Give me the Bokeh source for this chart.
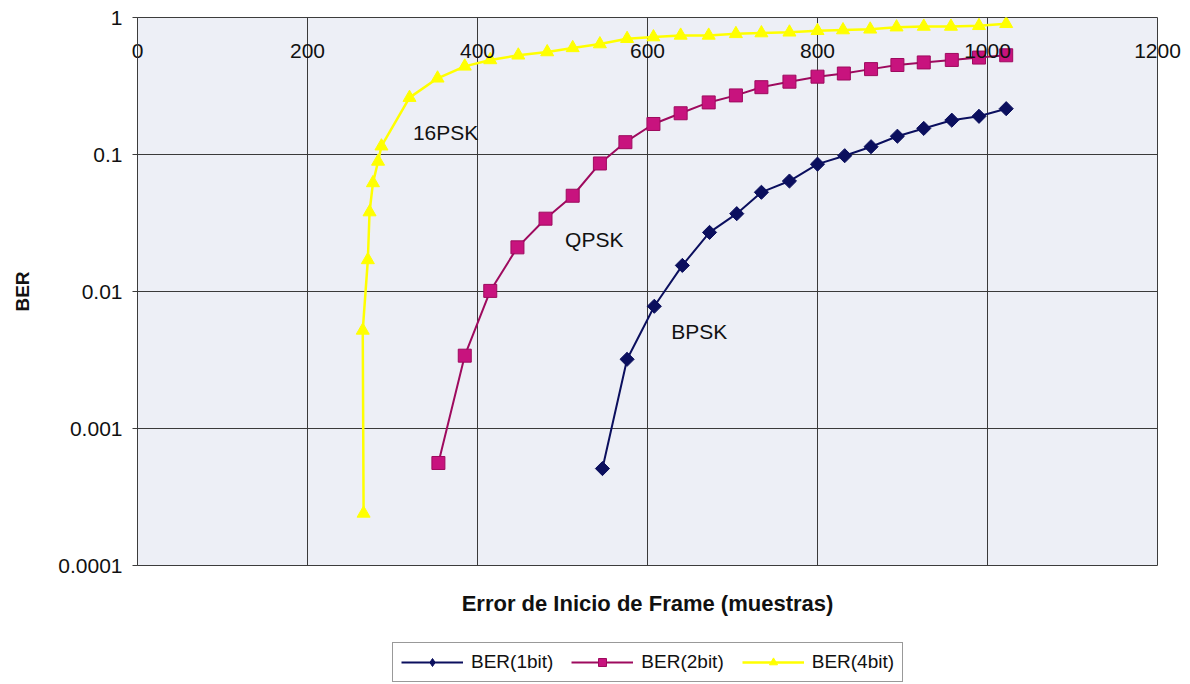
from bokeh.plotting import figure
from bokeh.models import Range1d, FixedTicker, Legend, LegendItem, LinearAxis
from bokeh.layouts import column
from bokeh.core.properties import value
from bokeh.embed import file_html
from bokeh.resources import INLINE

# ---- data ----
x_1bit = [547, 576, 608, 641, 673, 705, 734, 767, 800, 832, 863, 894, 925, 958, 990, 1022]
ber_1bit = [0.00051, 0.0032, 0.0078, 0.0155, 0.027, 0.037, 0.053, 0.064, 0.085, 0.098,
            0.114, 0.136, 0.155, 0.178, 0.19, 0.216]

x_2bit = [354, 385, 415, 447, 480, 512, 544, 574, 607, 639, 672, 704, 734, 767, 800, 831,
          863, 894, 925, 958, 990, 1022]
ber_2bit = [0.00056, 0.0034, 0.0101, 0.021, 0.034, 0.050, 0.086, 0.123, 0.167, 0.20,
            0.24, 0.27, 0.31, 0.34, 0.37, 0.39, 0.42, 0.45, 0.47, 0.49, 0.51, 0.53]

x_4bit = [266, 265, 271, 273, 277, 283, 287, 320, 353, 385, 415, 448, 482, 512, 544, 576,
          607, 639, 672, 704, 734, 767, 800, 830, 862, 893, 925, 957, 990, 1022]
ber_4bit = [0.00024, 0.0052, 0.017, 0.038, 0.062, 0.089, 0.115, 0.26, 0.36, 0.44, 0.49,
            0.53, 0.56, 0.60, 0.64, 0.70, 0.72, 0.74, 0.74, 0.76, 0.77, 0.78, 0.80, 0.81,
            0.82, 0.85, 0.86, 0.86, 0.87, 0.90]

series_names = ["BER(1bit)", "BER(2bit)", "BER(4bit)"]

x_ticks = [0, 200, 400, 600, 800, 1000, 1200]
x_tick_labels = ["0", "200", "400", "600", "800", "1000", "1200"]
y_ticks = [0.0001, 0.001, 0.01, 0.1, 1]
y_tick_labels = ["0.0001", "0.001", "0.01", "0.1", "1"]

curve_label_text = ["16PSK", "QPSK", "BPSK"]
curve_label_x = [324, 503, 628]
curve_label_y = [0.145, 0.024, 0.0051]

FONT = "Liberation Sans"
NAVY = "#0b0f5e"
MAG_FILL = "#c8137e"
MAG_LINE = "#9e0a5e"
YELLOW = "#ffff00"
INK = "#111111"

p = figure(width=1190, height=640,
           x_range=Range1d(0, 1200), y_range=Range1d(0.0001, 1),
           y_axis_type="log",
           output_backend="svg", toolbar_location=None,
           min_border_left=137, min_border_right=33,
           min_border_top=17, min_border_bottom=75,
           background_fill_color="#edeff6", border_fill_color="white",
           outline_line_color="#3c3c3c", outline_line_width=1)

# grids
p.xgrid.ticker = FixedTicker(ticks=x_ticks[1:-1])
p.ygrid.ticker = FixedTicker(ticks=y_ticks[1:-1])
for g in (p.xgrid[0], p.ygrid[0]):
    g.grid_line_color = "#3a3a3a"
    g.grid_line_width = 1
    g.minor_grid_line_color = None

# y axis
ya = p.yaxis[0]
ya.ticker = FixedTicker(ticks=y_ticks, minor_ticks=[])
ya.major_label_overrides = dict(zip(y_ticks, y_tick_labels))
ya.axis_line_color = "#3c3c3c"
ya.major_tick_line_color = "#3c3c3c"
ya.major_tick_out = 5
ya.major_tick_in = 0
ya.minor_tick_line_color = None
ya.major_label_standoff = 10
ya.major_label_text_font = FONT
ya.major_label_text_font_size = "21px"
ya.major_label_text_color = INK
ya.axis_label = "BER"
ya.axis_label_text_font = FONT
ya.axis_label_text_font_style = "bold"
ya.axis_label_text_font_size = "19px"
ya.axis_label_text_color = INK
ya.axis_label_standoff = 22

# x axis (bottom): title only
xa = p.xaxis[0]
xa.ticker = FixedTicker(ticks=[])
xa.axis_line_color = None
xa.major_tick_line_color = None
xa.minor_tick_line_color = None
xa.axis_label = "Error de Inicio de Frame (muestras)"
xa.axis_label_text_font = FONT
xa.axis_label_text_font_style = "bold"
xa.axis_label_text_font_size = "22px"
xa.axis_label_text_color = INK
xa.axis_label_standoff = 25

# x axis at the top, its labels drawn just inside the top edge
top_axis = LinearAxis(ticker=FixedTicker(ticks=x_ticks, minor_ticks=[]),
                      major_label_overrides=dict(zip(x_ticks, x_tick_labels)),
                      axis_line_color=None, major_tick_line_color=None,
                      minor_tick_line_color=None,
                      major_tick_out=0, major_tick_in=0,
                      major_label_standoff=-40,
                      major_label_text_font=FONT, major_label_text_font_size="21px",
                      major_label_text_color=INK)
p.add_layout(top_axis, "above")

# series
line_styles = [dict(line_color=NAVY, line_width=2),
               dict(line_color=MAG_LINE, line_width=2),
               dict(line_color=YELLOW, line_width=2.5)]
marker_styles = [dict(marker="square", angle=0.785398, size=10, fill_color=NAVY, line_color=NAVY),
                 dict(marker="square", size=13, fill_color=MAG_FILL, line_color=MAG_LINE),
                 dict(marker="triangle", size=13, fill_color=YELLOW, line_color=YELLOW)]
legend_marker_styles = [dict(marker="diamond", size=15, fill_color=NAVY, line_color=NAVY),
                        dict(marker="square", size=12, fill_color=MAG_FILL, line_color=MAG_LINE),
                        dict(marker="triangle", size=12, fill_color=YELLOW, line_color=YELLOW)]
series = [(x_1bit, ber_1bit), (x_2bit, ber_2bit), (x_4bit, ber_4bit)]

for (xs, ys), ls, ms in zip(series, line_styles, marker_styles):
    p.line(xs, ys, **ls)
    p.scatter(xs, ys, **ms)

# curve labels
p.text(x=curve_label_x, y=curve_label_y, text=curve_label_text,
       text_align="left", text_baseline="middle",
       text_font=value(FONT), text_font_size="21px", text_color=INK)

# legend strip below the chart (its renderers hold the same series, out of view)
q = figure(width=1190, height=44, x_range=Range1d(2000, 2001), y_range=Range1d(0, 1),
           x_axis_type=None, y_axis_type=None,
           output_backend="svg", toolbar_location=None,
           min_border_left=0, min_border_right=0, min_border_top=0, min_border_bottom=0,
           background_fill_color="white", border_fill_color="white",
           outline_line_color=None)
q.xgrid.visible = False
q.ygrid.visible = False
items = []
for name, (xs, ys), ls, ms in zip(series_names, series, line_styles, legend_marker_styles):
    rl = q.line(xs, ys, **ls)
    rs = q.scatter(xs, ys, **ms)
    items.append(LegendItem(label=name, renderers=[rl, rs]))

legend = Legend(items=items, orientation="horizontal", location=(255, 2),
                border_line_color="#333333", border_line_width=1,
                background_fill_color="white", background_fill_alpha=1,
                label_text_font=FONT, label_text_font_size="19px",
                label_text_color=INK,
                glyph_width=62, glyph_height=20, label_height=20,
                label_standoff=8, spacing=18, padding=8, margin=0)
q.add_layout(legend)

open("out.html", "w").write(file_html(column(p, q, spacing=0), INLINE))
